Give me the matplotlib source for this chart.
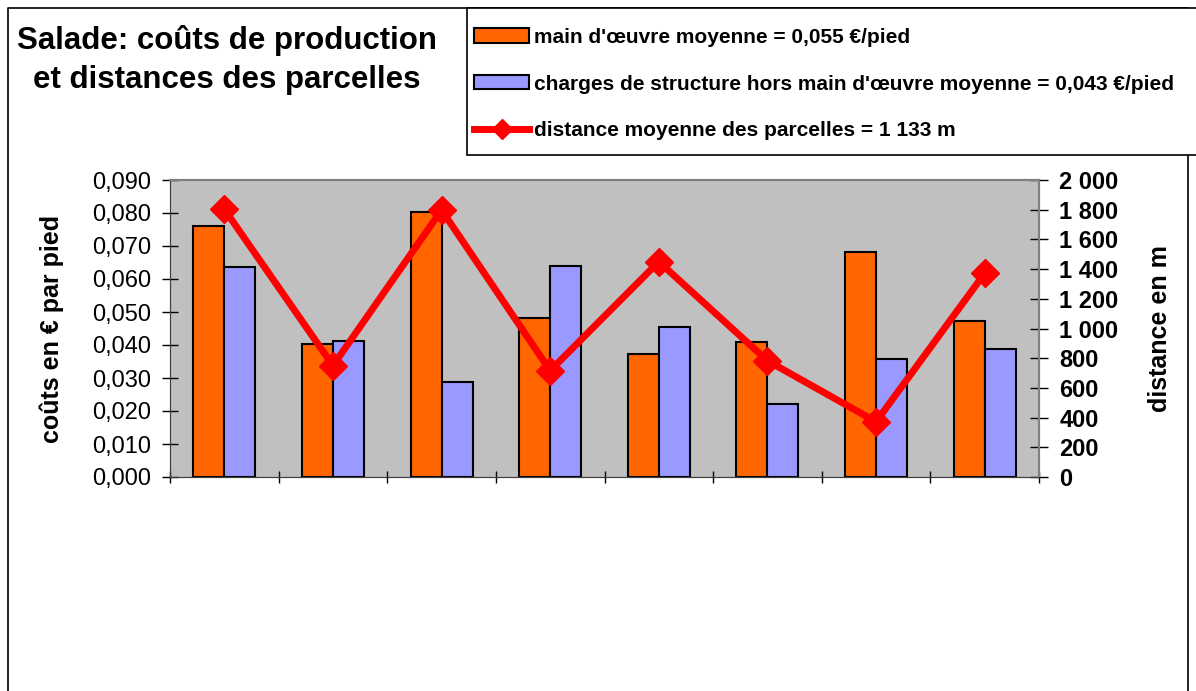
import numpy as np
import matplotlib
matplotlib.use("Agg")
import matplotlib.pyplot as plt
from matplotlib.lines import Line2D
from matplotlib.patches import Rectangle
from matplotlib.ticker import FuncFormatter

plt.rcParams['font.family'] = ['Liberation Sans', 'DejaVu Sans']

# values (8 plots, no category labels shown)
main_oeuvre = [0.0761, 0.0404, 0.0802, 0.0481, 0.0374, 0.0410, 0.0681, 0.0474]
charges = [0.0635, 0.0413, 0.0289, 0.0638, 0.0455, 0.0222, 0.0357, 0.0387]
distance = [1803, 750, 1798, 716, 1450, 783, 372, 1372]

lab_mo = "main d'œuvre moyenne = 0,055 €/pied"
lab_ch = "charges de structure hors main d'œuvre moyenne = 0,043 €/pied"
lab_di = "distance moyenne des parcelles = 1 133 m"

orange = '#FF6600'
bleu = '#9999FF'
rouge = '#FF0000'

W, H = 1196, 691
fig = plt.figure(figsize=(W / 100, H / 100), dpi=100)

# plot area in pixels: x 170..1039, y 180..477
ax = fig.add_axes([170 / W, 1 - 477 / H, 869 / W, 297 / H])
ax.set_facecolor('#C0C0C0')

x = np.arange(len(main_oeuvre))
bw = 0.285
b1 = ax.bar(x - bw / 2, main_oeuvre, bw, color=orange, edgecolor='black', linewidth=1.5, label=lab_mo)
b2 = ax.bar(x + bw / 2, charges, bw, color=bleu, edgecolor='black', linewidth=1.5, label=lab_ch)
ax.set_xlim(-0.5, len(x) - 0.5)
ax.set_ylim(0, 0.09)
ax.set_yticks(np.arange(0, 0.0901, 0.01))
ax.yaxis.set_major_formatter(FuncFormatter(lambda v, p: f"{v:.3f}".replace('.', ',')))
ax.set_xticks(np.arange(-0.5, len(x), 1.0))
ax.set_xticklabels([])
ax.tick_params(axis='y', direction='inout', length=11.5, width=1, labelsize=17, pad=8)
ax.tick_params(axis='x', direction='inout', length=8.6, width=1)
ax.set_ylabel('coûts en € par pied', fontsize=18, fontweight='bold')
ax.yaxis.set_label_coords(-0.122, 0.5)

ax2 = ax.twinx()
ln, = ax2.plot(x, distance, color=rouge, lw=5, marker='D', ms=14, mec=rouge, label=lab_di)
ax2.set_ylim(0, 2000)
ax2.set_yticks(np.arange(0, 2001, 200))
ax2.yaxis.set_major_formatter(FuncFormatter(lambda v, p: f"{int(v):,}".replace(',', ' ')))
ax2.tick_params(axis='y', direction='inout', length=13, width=1, labelsize=17, pad=8)
for t in ax2.get_yticklabels():
    t.set_fontweight('bold')
ax2.set_ylabel('distance en m', fontsize=18, fontweight='bold')
ax2.yaxis.set_label_coords(1.126, 0.5)

for a in (ax, ax2):
    a.spines['top'].set_color('#808080')
    a.spines['top'].set_linewidth(1.5)
    a.spines['right'].set_color('#808080')
    a.spines['right'].set_linewidth(1.5)
    a.spines['left'].set_color('#404040')
    a.spines['bottom'].set_color('#404040')

# title
fig.text(227 / W, 1 - 60 / H, "Salade: coûts de production\net distances des parcelles",
         ha='center', va='center', fontsize=22.5, fontweight='bold', linespacing=1.4)

# legend: box drawn separately, entries placed inside it
fig.add_artist(Rectangle((467 / W, 1 - 155 / H), 730 / W, 147 / H, transform=fig.transFigure,
                         facecolor='white', edgecolor='black', lw=1.2, zorder=2))
leg = fig.legend([b1, b2, ln], [lab_mo, lab_ch, lab_di], loc='center left',
                 bbox_to_anchor=(474 / W, 1 - 84 / H),
                 prop={'weight': 'bold', 'size': 15},
                 frameon=False, borderpad=0, labelspacing=1.33, handlelength=2.64,
                 handleheight=0.68, handletextpad=0.25, borderaxespad=0, markerscale=0.7)
leg.set_zorder(3)

# outer frame of the chart
fx = [8 / W, 8 / W, 1188 / W, 1188 / W]
fy = [0, 1 - 8 / H, 1 - 8 / H, 0]
fig.add_artist(Line2D(fx, fy, color='black', lw=1.2, transform=fig.transFigure, zorder=0))

fig.savefig('out.png', dpi=100)
